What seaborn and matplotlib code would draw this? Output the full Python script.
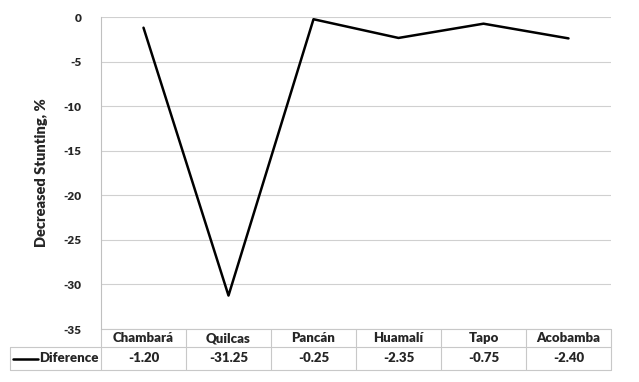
import matplotlib
matplotlib.use("Agg")
import matplotlib.pyplot as plt
import matplotlib.transforms as mtransforms
import pandas as pd
import seaborn as sns

categories = ["Chambará", "Quilcas", "Pancán", "Huamalí", "Tapo", "Acobamba"]
difference = [-1.20, -31.25, -0.25, -2.35, -0.75, -2.40]
series_name = "Diference"
y_ticks = [0, -5, -10, -15, -20, -25, -30, -35]

sns.set_style("white")
plt.rcParams["font.family"] = ["Lato", "DejaVu Sans"]
plt.rcParams["font.weight"] = "bold"

W, H = 639, 382
fig = plt.figure(figsize=(W / 100, H / 100), dpi=100)
left, right, top, bottom = 101, 611, 17, 329
ax = fig.add_axes([left / W, 1 - bottom / H, (right - left) / W, (bottom - top) / H])

df = pd.DataFrame({"pos": [i + 0.5 for i in range(len(categories))],
                   "value": difference})
sns.lineplot(data=df, x="pos", y="value", ax=ax, color="black", linewidth=1.8)

ax.set_xlim(0, len(categories))
ax.set_ylim(-35, 0)
ax.set_yticks(y_ticks)
ax.set_yticklabels([str(t) for t in y_ticks], fontsize=8.5, fontweight="heavy")
ax.set_xticks([])
ax.set_xlabel("")
ax.set_ylabel("Decreased Stunting, %", fontsize=10.5, fontweight="heavy", labelpad=11)
ax.tick_params(axis="y", length=0, pad=14)
ax.grid(axis="y", color="#d0d0d0", linewidth=0.8)
for s in ["top", "right", "bottom"]:
    ax.spines[s].set_visible(False)
ax.spines["left"].set_color("#c0c0c0")
ax.spines["left"].set_linewidth(0.8)

# data table below the plot
trans = mtransforms.blended_transform_factory(ax.transData, ax.transAxes)
ph = bottom - top
r1 = -18 / ph
r2 = -41 / ph
x_tab_left = (10 - left) / ((right - left) / len(categories))
n = len(categories)
lc = "#c8c8c8"
lw = 0.8
kw = dict(transform=trans, clip_on=False, color=lc, linewidth=lw)
ax.plot([0, n], [0, 0], **kw)
ax.plot([0, n], [r1, r1], **kw)
ax.plot([x_tab_left, 0], [r1, r1], **kw)
ax.plot([x_tab_left, n], [r2, r2], **kw)
ax.plot([x_tab_left, x_tab_left], [r1, r2], **kw)
for i in range(n + 1):
    ax.plot([i, i], [0, r2], **kw)

for i, (c, v) in enumerate(zip(categories, difference)):
    ax.text(i + 0.5, r1 / 2, c, transform=trans, ha="center", va="center",
            fontsize=9.5, fontweight="heavy")
    ax.text(i + 0.5, (r1 + r2) / 2, f"{v:.2f}", transform=trans, ha="center",
            va="center", fontsize=9.5, fontweight="heavy")

legend_x0 = x_tab_left + 0.03
legend_x1 = x_tab_left + 0.33
ax.plot([legend_x0, legend_x1], [(r1 + r2) / 2] * 2, transform=trans,
        clip_on=False, color="black", linewidth=1.8)
ax.text(legend_x1 + 0.01, (r1 + r2) / 2, series_name, transform=trans, ha="left",
        va="center", fontsize=9.5, fontweight="heavy")

fig.savefig("out.png", dpi=100)
